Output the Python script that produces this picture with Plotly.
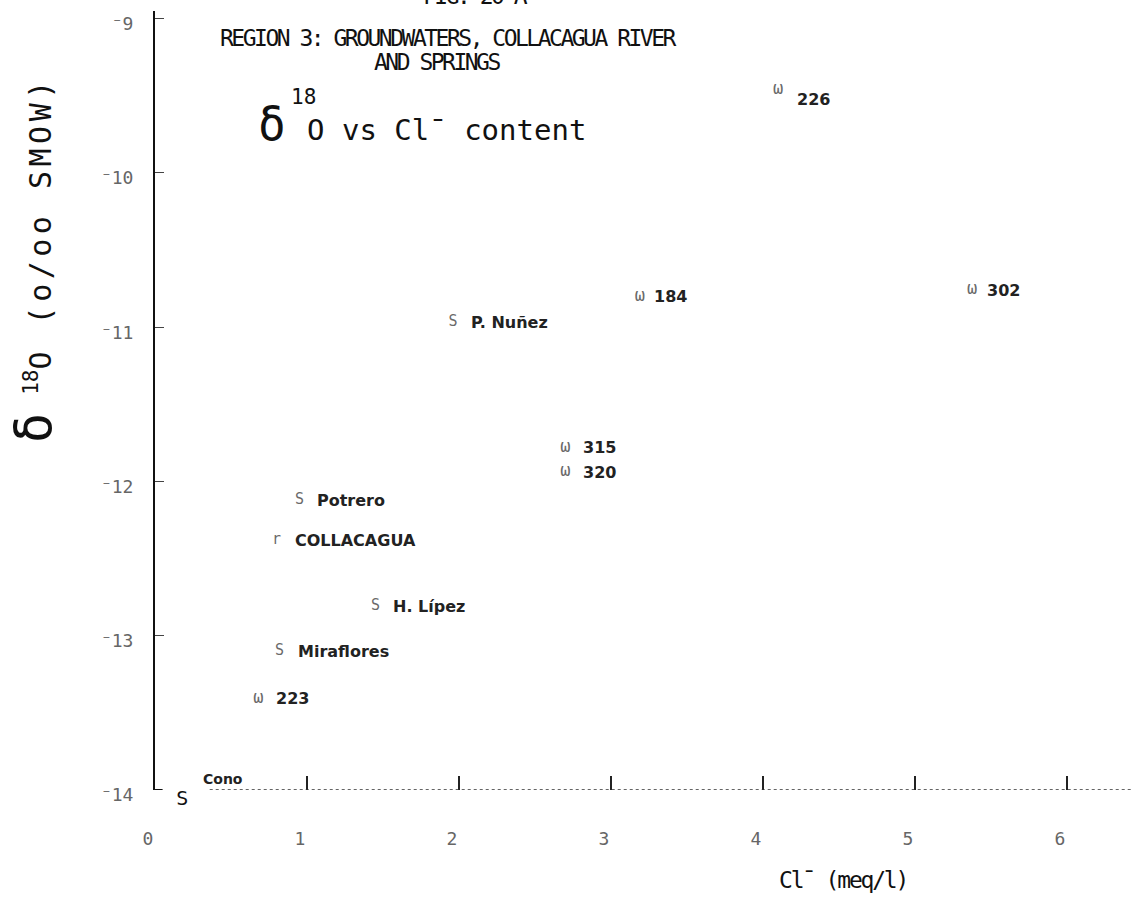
import plotly.graph_objects as go

# Sample sites: chloride content (meq/l) and delta 18O (o/oo SMOW)
site_names = ["226", "184", "302", "P. Nuñez", "315", "320", "Potrero",
              "COLLACAGUA", "H. Lípez", "Miraflores", "223", "Cono"]
site_types = ["w", "w", "w", "s", "w", "w", "s", "r", "s", "s", "w", "s"]
chloride = [4.10, 3.19, 5.375, 1.96, 2.70, 2.70, 0.95, 0.80, 1.45, 0.82, 0.68, 0.18]
delta18o = [-9.46, -10.80, -10.76, -10.97, -11.78, -11.94, -12.12, -12.38,
            -12.81, -13.10, -13.41, -14.00]

x_tickvals = [0, 1, 2, 3, 4, 5, 6]
x_ticktext = ["0", "1", "2", "3", "4", "5", "6"]
y_tickvals = [-9, -10, -11, -12, -13, -14]
y_ticktext = ["⁻9", "⁻10", "⁻11", "⁻12", "⁻13", "⁻14"]

W, H = 1133, 899
ML, MR, MT, MB = 155, 0, 11, 109
X_RANGE = [0, 6.434]
Y_RANGE = [-14, -8.95]

MONO = "DejaVu Sans Mono, Liberation Mono, monospace"
LABEL_FONT = "DejaVu Sans, Verdana, sans-serif"

glyph = {"w": "ω", "s": "S", "r": "r"}

# label placement relative to each symbol (pixels)
label_dx = {"226": 17, "Cono": 19, "184": 12, "302": 13}
label_dy = {"226": -10, "Cono": 11}

fig = go.Figure()

# symbol letters at each sample position
marker_text = [glyph[t] for t in site_types]
marker_color = ["#111" if n == "Cono" else "#6a6a6a" for n in site_names]
marker_size = [20 if n == "Cono" else (17 if t == "w" else 15)
               for n, t in zip(site_names, site_types)]
marker_pos = ["bottom center" if n == "Cono" else "middle center" for n in site_names]
fig.add_trace(go.Scatter(
    x=chloride, y=delta18o, mode="text", text=marker_text,
    textposition=marker_pos,
    textfont=dict(family=MONO, size=marker_size, color=marker_color),
    cliponaxis=False, hoverinfo="skip", showlegend=False,
))

for name, xv, yv in zip(site_names, chloride, delta18o):
    fig.add_annotation(
        x=xv, y=yv, xref="x", yref="y", text="<b>%s</b>" % name, showarrow=False,
        xanchor="left", yanchor="middle",
        xshift=label_dx.get(name, 16), yshift=label_dy.get(name, 0),
        font=dict(family=LABEL_FONT, size=14 if name == "Cono" else 16, color="#222"),
    )

# dotted horizontal axis line and the foot of the vertical axis
fig.add_shape(type="line", xref="x", yref="y", x0=0.36, x1=X_RANGE[1],
              y0=-14, y1=-14, line=dict(color="#333", width=1.5, dash="dot"))
fig.add_shape(type="line", xref="x", yref="y", x0=0, x1=0.05,
              y0=-14, y1=-14, line=dict(color="#111", width=2))

pw = W - ML - MR
ph = H - MT - MB


def px(xp):
    return (xp - ML) / pw


def py(yp):
    return (H - MB - yp) / ph


def spaced(text, spacing):
    return "<span style='letter-spacing:%.1fpx'>%s</span>" % (spacing, text)


def note(text, xp, yp, anchor, size, angle=0):
    fig.add_annotation(text=text, x=px(xp), y=py(yp), xref="paper", yref="paper",
                       xanchor=anchor, yanchor="middle", showarrow=False,
                       textangle=angle, font=dict(family=MONO, size=size, color="#111"))


note(spaced("FIG. 20 A", -2.5), 475, -4, "center", 23)
note(spaced("REGION 3: GROUNDWATERS, COLLACAGUA RIVER", -2.5), 218, 38, "left", 23)
note(spaced("AND SPRINGS", -2.5), 437, 62, "center", 23)

# delta 18O vs Cl- heading, built from its three parts
note("δ", 256, 124, "left", 46)
note("18", 289, 97, "left", 21)
note("O vs Cl¯ content", 305, 130, "left", 29)

note("<span style='font-size:50px'>δ</span> <sup>18</sup>"
     + spaced("O (o/oo SMOW)", 4.5), 34, 260, "center", 30, angle=-90)

note(spaced("Cl¯ (meq/l)", -2.2), 843, 880, "center", 23)

fig.update_layout(
    width=W, height=H, margin=dict(l=ML, r=MR, t=MT, b=MB),
    paper_bgcolor="white", plot_bgcolor="white", showlegend=False,
    xaxis=dict(range=X_RANGE, tickvals=x_tickvals, ticktext=x_ticktext,
               showgrid=False, zeroline=False, showline=False,
               ticks="inside", ticklen=14, tickwidth=1.5, tickcolor="#222",
               ticklabelstandoff=36, ticklabelshift=-7,
               tickfont=dict(family=MONO, size=18, color="#666")),
    yaxis=dict(range=Y_RANGE, tickvals=y_tickvals, ticktext=y_ticktext,
               showgrid=False, zeroline=False, showline=True,
               linecolor="#111", linewidth=2,
               ticks="inside", ticklen=9, tickwidth=1, tickcolor="#444",
               ticklabelstandoff=16, ticklabelshift=5,
               tickfont=dict(family=MONO, size=18, color="#666")),
)

fig.write_html("out.html")
